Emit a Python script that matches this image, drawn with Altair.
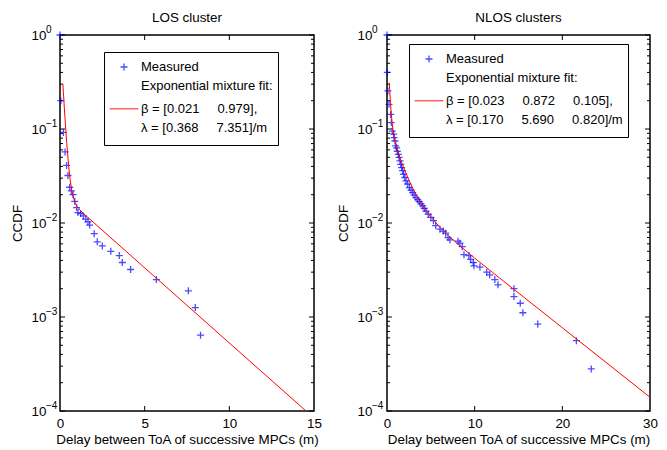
import altair as alt
import pandas as pd

FONT = "Liberation Sans"

# ---------------- LOS cluster ----------------
los_x = [0.0, 0.05, 0.2, 0.30, 0.39, 0.47, 0.57, 0.67, 0.77, 0.87, 0.98, 1.06,
         1.22, 1.38, 1.52, 1.65, 1.75, 2.02, 2.2, 2.5, 3.0, 3.5, 3.68, 4.17,
         5.69, 7.58, 7.99, 8.3]
los_y = [1.0, 0.2, 0.092, 0.057, 0.041, 0.032, 0.024, 0.022, 0.020, 0.017, 0.0146, 0.0129,
         0.0126, 0.0119, 0.011, 0.0103, 0.0095, 0.0077, 0.0063, 0.0057, 0.0050, 0.0045, 0.0038, 0.0032,
         0.0025, 0.0019, 0.00126, 0.00064]
los_fit_x = [0.17, 0.2, 0.25, 0.3, 0.35, 0.4, 0.5, 0.6, 0.7, 0.8, 0.9, 1.0, 1.2, 1.5, 14.5]
los_fit_y = [0.30, 0.245, 0.175, 0.127, 0.093, 0.070, 0.0423, 0.0287, 0.0219, 0.0184, 0.0163,
             0.0151, 0.0136, 0.0121, 0.000101]
los_labels = ["Measured", "Exponential mixture fit:",
              "β = [0.021\u00a0\u00a0\u00a0\u00a0\u00a00.979],",
              "λ = [0.368\u00a0\u00a0\u00a0\u00a0\u00a07.351]/m"]

# ---------------- NLOS clusters ----------------
nlos_x = [0.0, 0.04, 0.1, 0.23, 0.42, 0.49, 0.6, 0.76, 0.8, 0.91, 1.0, 1.1, 1.17, 1.29,
          1.38, 1.48, 1.57, 1.67, 1.78, 1.9, 2.03, 2.17, 2.35, 2.55, 2.74, 2.93, 3.1,
          3.3, 3.5, 3.69, 3.88, 4.07, 4.25, 4.45, 4.7, 5.0, 5.3, 5.55, 6.04, 6.42, 6.69,
          6.96, 7.18, 8.1, 8.32, 8.59, 8.78, 9.35, 9.54, 9.84, 9.92, 10.6, 11.37, 11.71,
          12.3, 12.66, 14.48, 14.48, 15.2, 15.5, 17.2, 21.6, 23.3]
nlos_y = [1.0, 0.40, 0.254, 0.183, 0.143, 0.117, 0.095, 0.088, 0.081, 0.0745, 0.066, 0.063,
          0.058, 0.0537, 0.050, 0.0457, 0.042, 0.0389, 0.036, 0.033, 0.0305, 0.028, 0.026,
          0.0238, 0.0224, 0.021, 0.0198, 0.0186, 0.0177, 0.0169, 0.016, 0.0152, 0.0143,
          0.0134, 0.0124, 0.0115, 0.0106, 0.0094, 0.0086, 0.0082, 0.0078, 0.0070, 0.0066,
          0.0064, 0.0061, 0.0056, 0.0046, 0.0045, 0.0041, 0.0038, 0.0035, 0.0034, 0.0030,
          0.0028, 0.0025, 0.0022, 0.0020, 0.00165, 0.0014, 0.00111, 0.00084, 0.00056, 0.00028]
nlos_fit_x = [0.26, 0.3, 0.4, 0.5, 0.6, 0.7, 0.8, 1.0, 1.25, 1.5, 2.0, 2.5, 3.0, 3.5, 4.0,
              5.0, 6.0, 7.0, 8.0, 10.0, 12.0, 30.0]
nlos_fit_y = [0.31, 0.262, 0.187, 0.1415, 0.1136, 0.0958, 0.0837, 0.0686, 0.057, 0.0487,
              0.0367, 0.0286, 0.0228, 0.0186, 0.0156, 0.0116, 0.00906, 0.00734, 0.00605,
              0.00423, 0.00300, 0.000140]
nlos_labels = ["Measured", "Exponential mixture fit:",
               "β = [0.023\u00a0\u00a0\u00a0\u00a0\u00a00.872\u00a0\u00a0\u00a0\u00a0\u00a00.105],",
               "λ = [0.170\u00a0\u00a0\u00a0\u00a0\u00a05.690\u00a0\u00a0\u00a0\u00a0\u00a00.820]/m"]

# ---------------- axis ticks ----------------
y_major = [1e-4, 1e-3, 1e-2, 1e-1, 1.0]
y_exp = ["\u22124", "\u22123", "\u22122", "\u22121", "0"]
y_minor = [m * 10.0 ** k for k in range(-4, 0) for m in range(2, 10)]
los_xticks = [0, 5, 10, 15]
nlos_xticks = [0, 10, 20, 30]
x_title = "Delay between ToA of successive MPCs (m)"

PLUS = "M-0.39,0L0.39,0M0,-0.39L0,0.39"
LINE = "M-1.6,0L1.6,0"
H = 376


def panel(title, px, py, fx, fy, labels, xmax, xticks, W, lx, ly, lab_pad):
    pts = pd.DataFrame({"x": px, "y": py, "series": labels[0]})
    fit = pd.DataFrame({"x": fx, "y": fy, "series": labels[2]})
    ymaj = pd.DataFrame({"y": y_major, "e": y_exp})
    ymin = pd.DataFrame({"y": y_minor})
    xt = pd.DataFrame({"x": xticks[1:-1]})

    xs = alt.Scale(domain=[0, xmax], nice=False, zero=False)
    ys = alt.Scale(type="log", domain=[1e-4, 1], nice=False)
    x_enc = alt.X("x:Q", scale=xs, axis=alt.Axis(
        values=xticks, title=x_title, ticks=False, domain=False, grid=False,
        labelPadding=5, titlePadding=3, labelFontSize=13.4, titleFontSize=13.4,
        labelFont=FONT, titleFont=FONT, titleFontWeight="normal",
        labelColor="black", titleColor="black", labelFlush=False))
    y_enc = alt.Y("y:Q", scale=ys, axis=alt.Axis(
        values=y_major, labelExpr="'10'", title="CCDF", ticks=False, domain=False,
        grid=False, labelPadding=lab_pad, titlePadding=7, labelFontSize=13.4,
        titleFontSize=13.4, labelFont=FONT, titleFont=FONT, titleFontWeight="normal",
        labelColor="black", titleColor="black"))

    leg = alt.Legend(title=None, orient="none", legendX=lx, legendY=ly, padding=5,
                     symbolSize=324, symbolStrokeWidth=1.3, labelFontSize=13.0,
                     labelFont=FONT, labelColor="black", labelLimit=0, rowPadding=0.4,
                     strokeColor="black", fillColor="white", symbolOffset=5,
                     labelOffset=7)
    color = alt.Color("series:N", scale=alt.Scale(
        domain=labels, range=["#0000ff", "transparent", "#ff0000", "transparent"]), legend=leg)
    shape = alt.Shape("series:N", scale=alt.Scale(
        domain=labels, range=[PLUS, "circle", LINE, "circle"]), legend=leg)

    points = alt.Chart(pts).mark_point(filled=False, size=324, strokeWidth=1.3).encode(
        x=x_enc, y=y_enc, color=color, shape=shape)
    line = alt.Chart(fit).mark_line(strokeWidth=1, clip=True).encode(
        x=x_enc, y=y_enc, color=alt.Color("series:N"))

    tick_l = alt.Chart(ymaj).mark_rule(color="black", strokeWidth=1).encode(
        y=y_enc, x=alt.value(0), x2=alt.value(5))
    tick_r = alt.Chart(ymaj).mark_rule(color="black", strokeWidth=1).encode(
        y=y_enc, x=alt.value(W - 5), x2=alt.value(W))
    mtick_l = alt.Chart(ymin).mark_rule(color="black", strokeWidth=1).encode(
        y=y_enc, x=alt.value(0), x2=alt.value(3))
    mtick_r = alt.Chart(ymin).mark_rule(color="black", strokeWidth=1).encode(
        y=y_enc, x=alt.value(W - 3), x2=alt.value(W))
    xtick_b = alt.Chart(xt).mark_rule(color="black", strokeWidth=1).encode(
        x=x_enc, y=alt.value(H - 5), y2=alt.value(H))
    xtick_t = alt.Chart(xt).mark_rule(color="black", strokeWidth=1).encode(
        x=x_enc, y=alt.value(0), y2=alt.value(5))
    expo = alt.Chart(ymaj).mark_text(align="left", baseline="middle", dy=-5,
                                     fontSize=10, font=FONT, color="black").encode(
        y=y_enc, x=alt.value(-lab_pad), text="e:N")

    return alt.layer(tick_l, tick_r, mtick_l, mtick_r, xtick_b, xtick_t, expo,
                     points, line).properties(
        width=W, height=H,
        title=alt.Title(title, fontSize=13.4, fontWeight="normal", font=FONT,
                        color="black", offset=1))


left = panel("LOS cluster", los_x, los_y, los_fit_x, los_fit_y, los_labels, 15,
             los_xticks, 254, 44, 17, 14)
right = panel("NLOS clusters", nlos_x, nlos_y, nlos_fit_x, nlos_fit_y, nlos_labels, 30,
              nlos_xticks, 263, 22, 9, 15)

chart = alt.hconcat(left, right, spacing=12).resolve_scale(
    color="independent", shape="independent", x="independent", y="independent"
).resolve_legend(color="independent", shape="independent").properties(
    padding={"left": 1, "top": 1, "right": 0, "bottom": 0}
).configure_view(stroke="black", strokeWidth=1.5)

chart.save("out.html", embed_options={"renderer": "svg", "actions": False})
